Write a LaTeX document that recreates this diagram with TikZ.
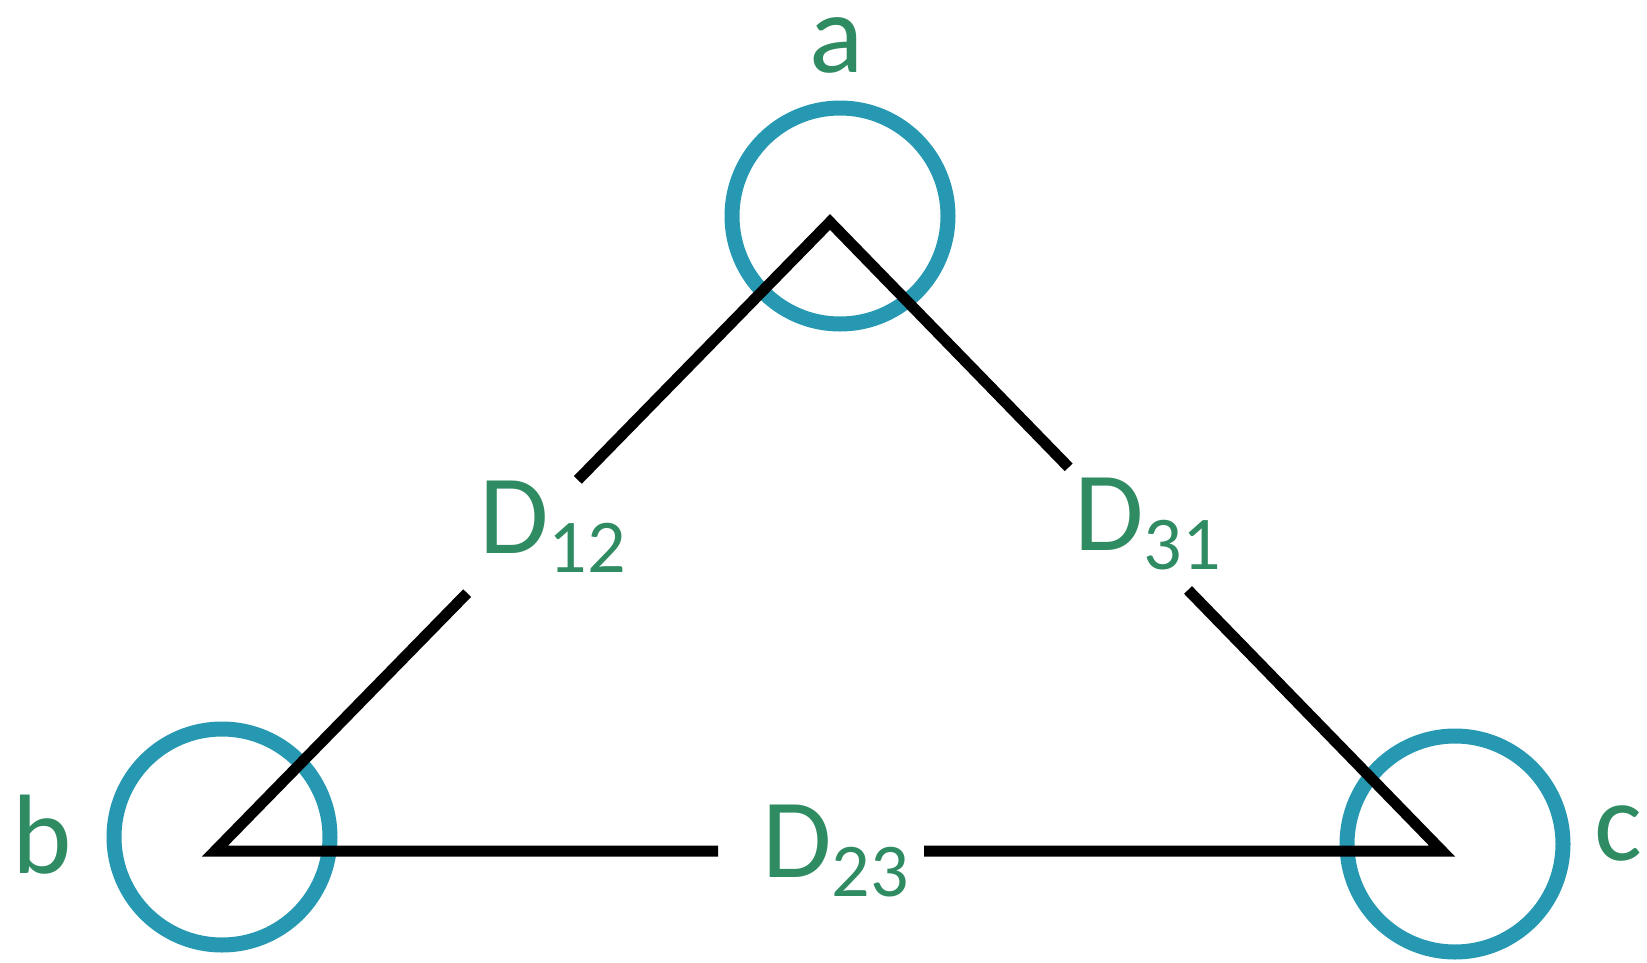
\documentclass[tikz,border=0pt]{standalone}
\usepackage{fontspec}
\setmainfont{Carlito}
\usetikzlibrary{calc}
\definecolor{lblgreen}{RGB}{46,139,98}
\definecolor{ringblue}{RGB}{38,152,178}
\newcommand\subtxt[1]{\raisebox{-19pt}{\fontsize{76}{76}\selectfont #1}}
\tikzset{
  ring/.style={circle, draw=ringblue, line width=15pt, minimum size=216pt, inner sep=0pt},
  lbl/.style={text=lblgreen, font=\fontsize{113}{113}\selectfont, inner sep=0pt},
  edge/.style={draw=black, line width=11pt, line join=miter},
}
\begin{document}
\begin{tikzpicture}[x=1pt,y=-1pt]
\useasboundingbox (0,0) rectangle (1647,962);
% vertices
\coordinate (va) at (830,222);
\coordinate (vb) at (215,851);
\coordinate (vc) at (1442,851);
% gap ends
\coordinate (g12a) at ($(va)!0.41!(vb)$);
\coordinate (g12b) at ($(va)!0.59!(vb)$);
\coordinate (g31a) at ($(va)!0.39!(vc)$);
\coordinate (g31b) at ($(va)!0.585!(vc)$);
\coordinate (g23a) at ($(vb)!0.41!(vc)$);
\coordinate (g23b) at ($(vb)!0.578!(vc)$);
% rings
\node[ring] (ra) at (840,216) {};
\node[ring] (rb) at (222,837) {};
\node[ring] (rc) at (1455,844) {};
% edges
\draw[edge] (g12a) -- (va) -- (g31a);
\draw[edge] (g12b) -- (vb) -- (g23a);
\draw[edge] (g31b) -- (vc) -- (g23b);
% labels
\node[lbl, anchor=base, text height=55pt] (la) at (837,72) {a};
\node[lbl, anchor=base] (lb) at (42,873) {b};
\node[lbl, anchor=base] (lc) at (1618,860) {c};
\node[lbl, anchor=base west] (d12) at (479,553) {D\subtxt{12}};
\node[lbl, anchor=base west] (d31) at (1074,550) {D\subtxt{31}};
\node[lbl, anchor=base west] (d23) at (762,877) {D\subtxt{23}};
\end{tikzpicture}
\end{document}
